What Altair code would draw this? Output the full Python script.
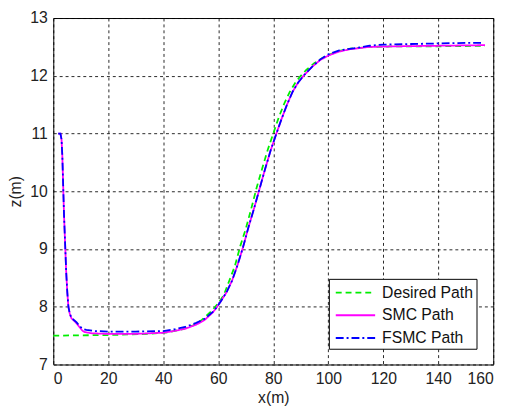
import altair as alt
import pandas as pd

# Desired path
des_x = [0, 20, 35, 42, 47, 51, 54, 57, 60, 62, 64, 66, 68, 70, 72, 74, 76, 78, 80, 82, 84, 86, 88, 90, 92, 95, 98, 100, 104, 108, 115, 125, 140, 157]
des_z = [7.50, 7.51, 7.53, 7.56, 7.61, 7.68, 7.77, 7.90, 8.06, 8.20, 8.45, 8.70, 9.05, 9.35, 9.70, 10.07, 10.40, 10.72, 11.00, 11.28, 11.52, 11.72, 11.88, 12.00, 12.10, 12.22, 12.31, 12.36, 12.43, 12.47, 12.50, 12.51, 12.51, 12.52]

# SMC path
smc_x = [1.8, 2.6, 3.0, 3.3, 3.6, 3.9, 4.3, 4.7, 5.1, 5.5, 6.0, 6.6, 7.5, 8.5, 9.5, 10.5, 11.5, 14, 20, 30, 40, 44, 48, 52, 55, 58, 59.6, 61, 63, 65, 67, 69, 71, 73, 75, 77, 79, 81, 83, 85, 87, 89, 91, 94, 97, 100, 104, 108, 115, 125, 140, 157]
smc_z = [11.0, 11.0, 10.9, 10.6, 10.1, 9.6, 9.1, 8.6, 8.25, 8.0, 7.88, 7.80, 7.76, 7.71, 7.65, 7.59, 7.56, 7.54, 7.53, 7.53, 7.55, 7.58, 7.62, 7.69, 7.77, 7.90, 8.0, 8.10, 8.25, 8.45, 8.72, 9.03, 9.38, 9.70, 10.04, 10.38, 10.70, 10.98, 11.25, 11.50, 11.72, 11.88, 12.00, 12.15, 12.27, 12.35, 12.42, 12.46, 12.50, 12.51, 12.52, 12.53]

# FSMC path
fsmc_x = [1.8, 2.6, 3.0, 3.3, 3.6, 3.9, 4.3, 4.7, 5.1, 5.5, 6.0, 6.6, 7.5, 8.5, 9.5, 10.5, 12, 15, 20, 30, 40, 44, 48, 52, 55, 58, 59.6, 61, 63, 65, 67, 69, 71, 73, 75, 77, 79, 81, 83, 85, 87, 89, 91, 94, 97, 100, 104, 110, 115, 120, 130, 140, 150, 156]
fsmc_z = [11.0, 11.0, 10.9, 10.6, 10.1, 9.6, 9.1, 8.6, 8.25, 8.0, 7.88, 7.81, 7.77, 7.73, 7.67, 7.62, 7.60, 7.58, 7.57, 7.57, 7.58, 7.61, 7.65, 7.72, 7.79, 7.91, 8.0, 8.10, 8.25, 8.45, 8.72, 9.03, 9.38, 9.70, 10.04, 10.38, 10.70, 10.98, 11.25, 11.50, 11.72, 11.88, 12.00, 12.15, 12.28, 12.37, 12.44, 12.48, 12.52, 12.54, 12.55, 12.56, 12.57, 12.57]

series = ["Desired Path", "SMC Path", "FSMC Path"]
colors = ["#00ee00", "#ff00ff", "#0000ff"]
dashes = [[6, 4], [1, 0], [8, 3, 2, 3]]

x_ticks = [0, 20, 40, 60, 80, 100, 120, 140, 160]
z_ticks = [7, 8, 9, 10, 11, 12, 13]

rows = []
for name, xs, zs in zip(series, [des_x, smc_x, fsmc_x], [des_z, smc_z, fsmc_z]):
    for i, (xv, zv) in enumerate(zip(xs, zs)):
        rows.append({"series": name, "x": xv, "z": zv, "idx": i})
df = pd.DataFrame(rows)

FONT = "Liberation Sans"

chart = alt.Chart(df).mark_line(strokeWidth=1.8).encode(
    x=alt.X("x:Q", scale=alt.Scale(domain=[0, 160], nice=False),
            axis=alt.Axis(title="x(m)", values=x_ticks, grid=True)),
    y=alt.Y("z:Q", scale=alt.Scale(domain=[7, 13], nice=False, zero=False),
            axis=alt.Axis(title="z(m)", values=z_ticks, grid=True)),
    color=alt.Color("series:N", scale=alt.Scale(domain=series, range=colors),
                    sort=series, title=None,
                    legend=alt.Legend(orient="none", legendX=280, legendY=265)),
    strokeDash=alt.StrokeDash("series:N", scale=alt.Scale(domain=series, range=dashes),
                              sort=series, title=None),
    order="idx:Q",
).properties(
    width=447, height=352,
    autosize=alt.AutoSizeParams(type="none"),
    padding={"left": 46, "top": 7, "right": 16, "bottom": 40},
).configure_view(
    stroke="black", strokeWidth=1
).configure_axis(
    labelFont=FONT, labelFontSize=16, labelColor="#222",
    titleFont=FONT, titleFontSize=16, titleColor="#222", titleFontWeight="normal",
    gridColor="black", gridDash=[3, 3], gridOpacity=0.85, gridWidth=1,
    domain=False, ticks=False, labelPadding=6,
).configure_axisX(
    titlePadding=4
).configure_axisY(
    titlePadding=6
).configure_legend(
    strokeColor="black", fillColor="white", padding=3,
    symbolType="M-2,0H2", symbolSize=400, symbolStrokeWidth=2,
    labelFont=FONT, labelFontSize=16, labelColor="#111",
    rowPadding=4, labelOffset=16, symbolOffset=13,
)

chart.save("out.html", embed_options={"renderer": "svg", "actions": False})
